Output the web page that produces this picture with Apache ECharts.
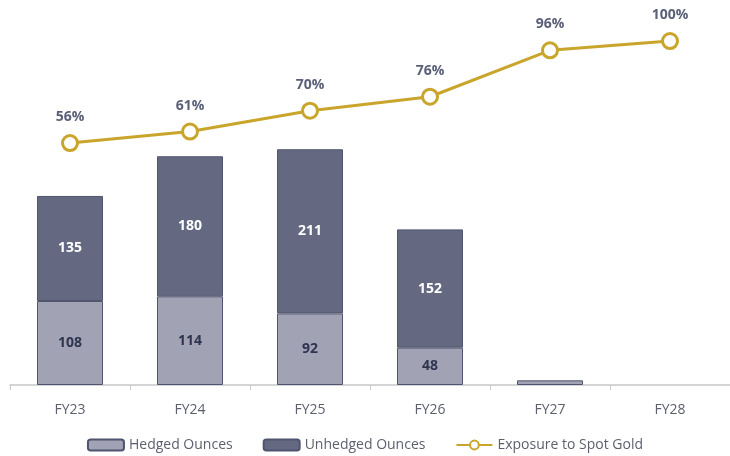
<!DOCTYPE html>
<html>
<head>
<meta charset="utf-8">
<script src="https://cdn.jsdelivr.net/npm/echarts@6/dist/echarts.min.js"></script>
<style>
  html, body { margin: 0; padding: 0; background: #fff; }
  #chart { width: 730px; height: 456px; }
</style>
</head>
<body>
<div id="chart"></div>
<script>
// data
var years = ['FY23', 'FY24', 'FY25', 'FY26', 'FY27', 'FY28']
var hedged = [108, 114, 92, 48, 6, null]
var unhedged = [135, 180, 211, 152, null, null]
var exposure = [56, 61, 70, 76, 96, 100]

var font = '"Open Sans", "Noto Sans", sans-serif'
var myChart = echarts.init(document.getElementById('chart'))

myChart.setOption({
  animation: false,
  textStyle: { fontFamily: font },
  grid: { left: 10, right: 0, top: 10, bottom: 71 },
  legend: {
    bottom: -1,
    left: 'center',
    itemGap: 30,
    itemWidth: 36,
    itemHeight: 11,
    textStyle: { color: '#5c5f6e', fontSize: 14, fontFamily: font },
    data: ['Hedged Ounces', 'Unhedged Ounces', 'Exposure to Spot Gold']
  },
  xAxis: {
    type: 'category',
    data: years,
    axisLine: { lineStyle: { color: '#c8c8cc', width: 1.5 } },
    axisTick: { show: true, lineStyle: { color: '#c8c8cc' } },
    axisLabel: { color: '#5c5f6e', fontSize: 14, margin: 18 }
  },
  yAxis: [
    { type: 'value', min: 0, max: 482, show: false, splitLine: { show: false } },
    { type: 'value', min: -48.3, max: 113.4, show: false, splitLine: { show: false } }
  ],
  series: [
    {
      name: 'Hedged Ounces',
      type: 'bar',
      stack: 'oz',
      barWidth: 66,
      data: hedged,
      itemStyle: { color: '#a1a2b4', borderColor: '#50556f', borderWidth: 1 },
      label: {
        show: true,
        position: 'inside',
        color: '#2f3550',
        fontWeight: 'bold',
        fontSize: 14,
        formatter: function (p) { return p.value >= 20 ? p.value : '' }
      }
    },
    {
      name: 'Unhedged Ounces',
      type: 'bar',
      stack: 'oz',
      barWidth: 66,
      data: unhedged,
      itemStyle: { color: '#646981', borderColor: '#50556f', borderWidth: 1 },
      label: {
        show: true,
        position: 'inside',
        color: '#ffffff',
        fontWeight: 'bold',
        fontSize: 14,
        formatter: function (p) { return p.value > 0 ? p.value : '' }
      }
    },
    {
      name: 'Exposure to Spot Gold',
      type: 'line',
      yAxisIndex: 1,
      data: exposure,
      symbol: 'circle',
      symbolSize: 15,
      lineStyle: { color: '#c9a52b', width: 3 },
      itemStyle: { color: '#ffffff', borderColor: '#c9a52b', borderWidth: 3 },
      label: {
        show: true,
        position: 'top',
        distance: 10,
        color: '#5a6078',
        fontWeight: 'bold',
        fontSize: 14,
        formatter: '{c}%'
      }
    }
  ]
})
</script>
</body>
</html>
